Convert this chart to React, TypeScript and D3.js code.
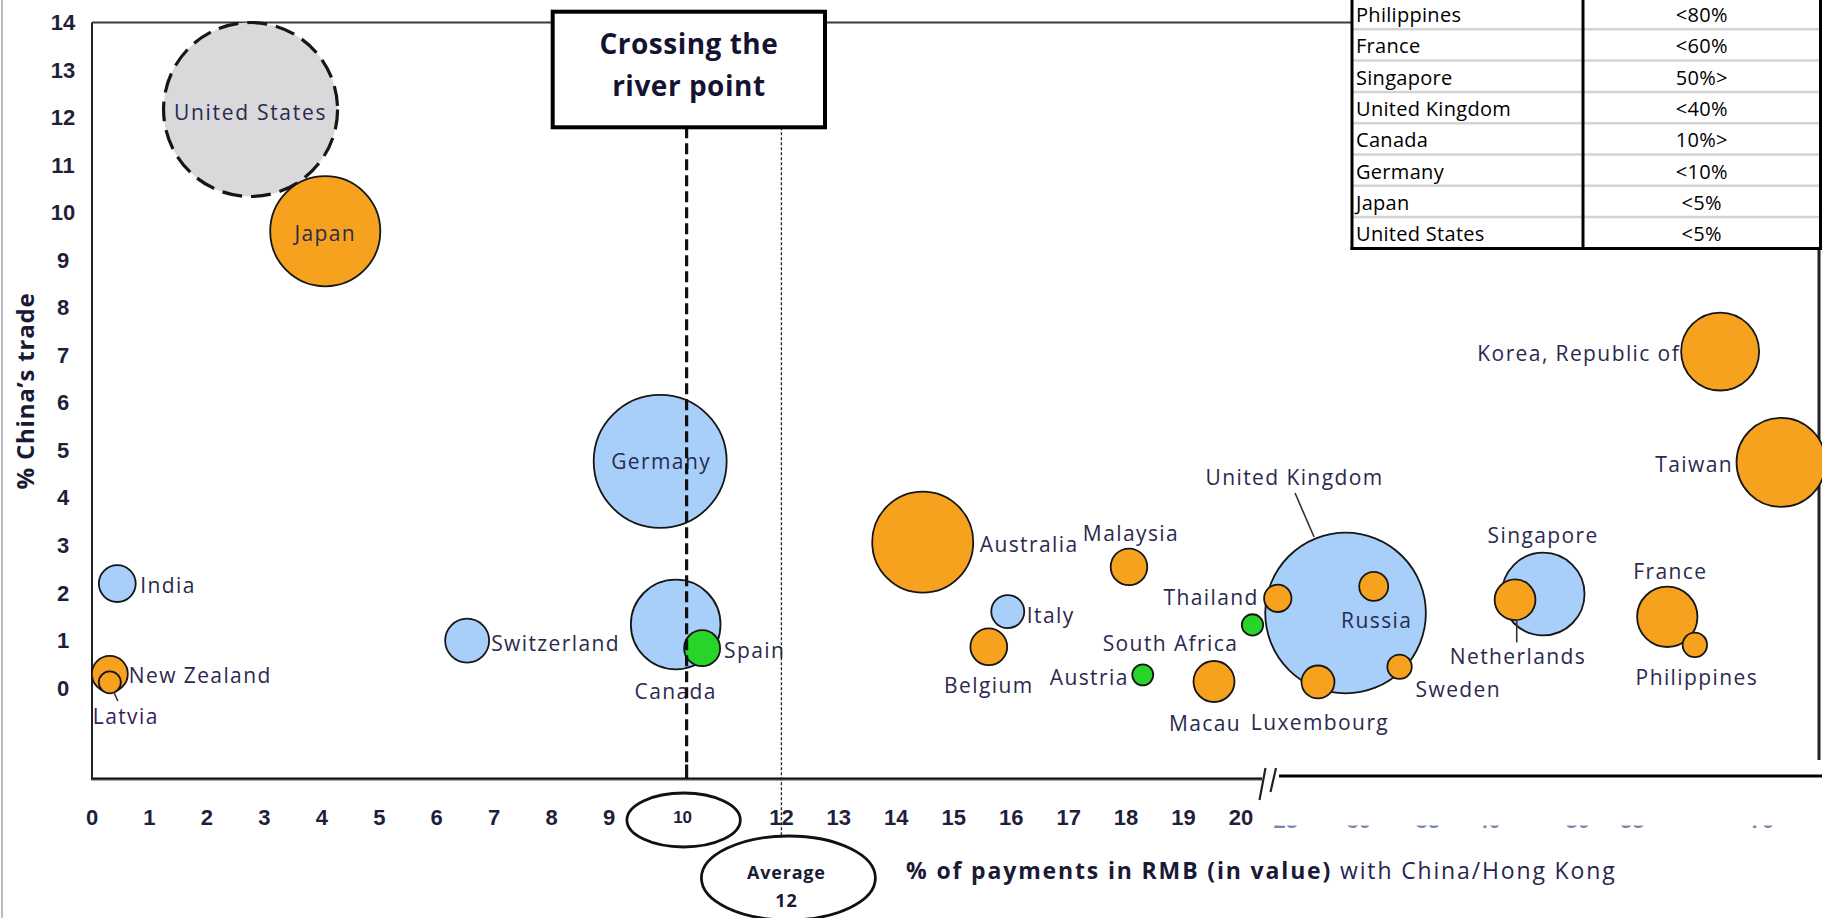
import React from 'react';
import * as d3 from 'd3';

// ---------------- DATA ----------------
const countries = ['United States', 'Japan', 'Germany', 'United Kingdom', 'Australia', 'Canada', 'Taiwan', 'Singapore', 'Korea, Republic of', 'France', 'Switzerland', 'Macau', 'Netherlands', 'India', 'Belgium', 'Malaysia', 'New Zealand', 'Spain', 'Italy', 'Luxembourg', 'Russia', 'Thailand', 'Sweden', 'Philippines', 'Latvia', 'South Africa', 'Austria'];
// % of payments in RMB (x, linear continuation past the axis break)
const rmbShare = [2.76, 4.06, 9.89, 21.82, 14.46, 10.16, 29.4, 25.26, 28.34, 27.42, 6.53, 19.53, 24.77, 0.44, 15.61, 18.05, 0.31, 10.62, 15.94, 21.34, 22.31, 20.64, 22.76, 27.9, 0.31, 20.2, 18.29];
// % of China's trade (y)
const tradeShare = [12.17, 9.61, 4.77, 1.58, 3.07, 1.34, 4.75, 1.98, 7.08, 1.5, 1.0, 0.14, 1.86, 2.2, 0.87, 2.55, 0.3, 0.84, 1.61, 0.13, 2.14, 1.89, 0.45, 0.91, 0.12, 1.33, 0.28];
// bubble size (relative volume)
const bubbleSize = [75.7, 30.3, 44.2, 64.5, 25.5, 20.1, 19.8, 17.1, 15.2, 9.1, 4.84, 4.2, 4.16, 3.4, 3.39, 3.35, 3.24, 3.24, 2.72, 2.72, 2.1, 1.88, 1.49, 1.49, 1.21, 1.14, 1.1];
const group = ['us', 'orange', 'blue', 'blue', 'orange', 'blue', 'orange', 'blue', 'orange', 'orange', 'blue', 'orange', 'orange', 'blue', 'orange', 'orange', 'orange', 'green', 'blue', 'orange', 'orange', 'orange', 'orange', 'orange', 'orange', 'green', 'green'];

const yTicks = [0, 1, 2, 3, 4, 5, 6, 7, 8, 9, 10, 11, 12, 13, 14];
const xTicks = [0, 1, 2, 3, 4, 5, 6, 7, 8, 9, 12, 13, 14, 15, 16, 17, 18, 19, 20];
const hiddenTicks = [20.78, 22.05, 23.25, 24.31, 25.86, 26.81, 29.07];
const hiddenTickLabels = ['25', '30', '35', '40', '50', '55', '70'];
const crossingValue = 10.35;
const crossingLabel = '10';
const averageValue = 12;
const averageLabel = ['Average', '12'];

const tableCountries = ['Philippines', 'France', 'Singapore', 'United Kingdom', 'Canada', 'Germany', 'Japan', 'United States'];
const tableValues = ['<80%', '<60%', '50%>', '<40%', '10%>', '<10%', '<5%', '<5%'];

// ---------------- STYLE ----------------
const W = 1822;
const H = 918;
const FONT = "'Open Sans', 'DejaVu Sans', sans-serif";
const TICKFONT = "'Liberation Sans', Arial, sans-serif";
const fills: Record<string, string> = { us: '#d9d9db', orange: '#f7a21e', blue: '#a7cff9', green: '#27d427' };
const labelColor = '#2a2a4e';
const tickColor = '#1f1f3c';

type LS = { dx: number; dy: number; anchor: string };
const labelPos: Record<string, LS> = {
  'United States': { dx: 0, dy: 2, anchor: 'middle' },
  'Japan': { dx: 0, dy: 2, anchor: 'middle' },
  'Germany': { dx: -49, dy: 0, anchor: 'start' },
  'Canada': { dx: 0, dy: 67, anchor: 'middle' },
  'Spain': { dx: 22, dy: 2, anchor: 'start' },
  'India': { dx: 23, dy: 1, anchor: 'start' },
  'Switzerland': { dx: 24, dy: 2, anchor: 'start' },
  'New Zealand': { dx: 19, dy: 1, anchor: 'start' },
  'Latvia': { dx: -17, dy: 34, anchor: 'start' },
  'Australia': { dx: 57, dy: 2, anchor: 'start' },
  'Malaysia': { dx: 2, dy: -34, anchor: 'middle' },
  'Italy': { dx: 19, dy: 3, anchor: 'start' },
  'Belgium': { dx: 0, dy: 38, anchor: 'middle' },
  'Austria': { dx: -14, dy: 2, anchor: 'end' },
  'Macau': { dx: -9, dy: 41, anchor: 'middle' },
  'South Africa': { dx: -82, dy: 18, anchor: 'middle' },
  'Thailand': { dx: -19, dy: -1, anchor: 'end' },
  'United Kingdom': { dx: -51, dy: -136, anchor: 'middle' },
  'Russia': { dx: 3, dy: 34, anchor: 'middle' },
  'Sweden': { dx: 16, dy: 22, anchor: 'start' },
  'Luxembourg': { dx: 2, dy: 40, anchor: 'middle' },
  'Singapore': { dx: 0, dy: -59, anchor: 'middle' },
  'Netherlands': { dx: 3, dy: 56, anchor: 'middle' },
  'France': { dx: 3, dy: -46, anchor: 'middle' },
  'Philippines': { dx: 2, dy: 32, anchor: 'middle' },
  'Taiwan': { dx: -48, dy: 2, anchor: 'end' },
  'Korea, Republic of': { dx: -40, dy: 1, anchor: 'end' },
};
const leaders: Record<string, number[]> = {
  'United Kingdom': [-50.5, -120, -31.5, -76],
  'Netherlands': [1.7, 20, 1.7, 42.7],
  'Latvia': [4, 9.5, 8, 18.5],
};

export default function App() {
  const x = d3.scaleLinear().domain([0, 20]).range([92, 1241]);
  const y = d3.scaleLinear().domain([-1.9, 14]).range([778.5, 22.5]);
  const r = d3.scaleSqrt().domain([0, 100]).range([0, 100]);

  const plotLeft = x(0);
  const plotTop = y(14);
  const plotBottom = y(-1.9);
  const breakX = 1262;
  const tableX0 = 1352, tableX1 = 1583, tableX2 = 1820.5, rowTop = -2, rowH = 31.3;
  const tableBottom = rowTop + rowH * tableCountries.length;

  const order = d3.range(countries.length).sort((a, b) => bubbleSize[b] - bubbleSize[a]);
  const boxTop = 11.7, boxBottom = 127.3, boxLeft = 552.7, boxRight = 825;

  return (
    <svg width={W} height={H} style={{ position: 'absolute', left: 0, top: 0, background: '#fff' }} fontFamily={FONT}>
      <defs>
        <clipPath id="hiddenClip">
          <rect x={1270} y={825.5} width={540} height={2.5} />
        </clipPath>
      </defs>
      <rect x={0} y={0} width={W} height={H} fill="#fff" />
      {/* outer light border */}
      <line x1={2} x2={2} y1={0} y2={H} stroke="#b8bcc4" strokeWidth={2} />

      {/* plot frame */}
      <line x1={plotLeft} x2={tableX0} y1={plotTop} y2={plotTop} stroke="#3a3a3a" strokeWidth={2} />
      <line x1={plotLeft} x2={plotLeft} y1={plotTop} y2={plotBottom} stroke="#222" strokeWidth={2} />
      <line x1={1819} x2={1819} y1={tableBottom} y2={760} stroke="#222" strokeWidth={3} />
      <line x1={plotLeft - 1} x2={breakX} y1={plotBottom + 0.5} y2={plotBottom + 0.5} stroke="#555" strokeWidth={3} />
      <line x1={plotLeft - 1} x2={breakX} y1={plotBottom} y2={plotBottom} stroke="#111" strokeWidth={1.5} />
      <line x1={1279} x2={W} y1={776} y2={776} stroke="#000" strokeWidth={3} />
      <line x1={1259.5} y1={800} x2={1265.5} y2={768} stroke="#222" strokeWidth={2.2} />
      <line x1={1270.5} y1={792} x2={1276} y2={768} stroke="#222" strokeWidth={2.2} />

      {/* y ticks */}
      {yTicks.map((t) => (
        <text key={'y' + t} x={63} y={y(t)} textAnchor="middle" dominantBaseline="central" fontFamily={TICKFONT} fontWeight="bold" fontSize={22} fill={tickColor}>{t}</text>
      ))}
      {/* x ticks */}
      {xTicks.map((t) => (
        <text key={'x' + t} x={x(t)} y={817} textAnchor="middle" dominantBaseline="central" fontFamily={TICKFONT} fontWeight="bold" fontSize={22} fill={tickColor}>{t}</text>
      ))}
      <g clipPath="url(#hiddenClip)" opacity={0.75}>
        {hiddenTicks.map((t, i) => (
          <text key={'h' + i} x={x(t)} y={820} textAnchor="middle" dominantBaseline="central" fontFamily={TICKFONT} fontWeight="bold" fontSize={22} fill="#4a5c92">{hiddenTickLabels[i]}</text>
        ))}
      </g>

      {/* axis titles */}
      <text transform={`translate(24,391) rotate(-90)`} textAnchor="middle" dominantBaseline="central" fontWeight="bold" fontSize={24} letterSpacing={0.8} fill="#1a1a36">% China’s trade</text>
      <text x={906} y={879} fontSize={23} fill="#1a1a36" letterSpacing={1.85}>
        <tspan fontWeight="bold">% of payments in RMB (in value)</tspan>
        <tspan fill="#2a2450"> with China/Hong Kong</tspan>
      </text>

      {/* bubbles */}
      {order.map((i) => {
        const isUS = group[i] === 'us';
        return (
          <circle key={countries[i]} cx={x(rmbShare[i])} cy={y(tradeShare[i])} r={r(bubbleSize[i])}
            fill={fills[group[i]]} stroke="#161616" strokeWidth={isUS ? 3.2 : 1.8}
            strokeDasharray={isUS ? '20 9' : undefined} />
        );
      })}

      {/* leader lines */}
      {countries.map((c, i) => {
        const l = leaders[c];
        if (!l) return null;
        const cx = x(rmbShare[i]), cy = y(tradeShare[i]);
        return <line key={'l' + c} x1={cx + l[0]} y1={cy + l[1]} x2={cx + l[2]} y2={cy + l[3]} stroke="#333" strokeWidth={1.6} />;
      })}

      {/* labels */}
      {countries.map((c, i) => {
        const p = labelPos[c];
        return (
          <text key={'t' + c} x={x(rmbShare[i]) + p.dx} y={y(tradeShare[i]) + p.dy} textAnchor={p.anchor}
            dominantBaseline="central" fontSize={21} letterSpacing={c === 'United States' ? 1.7 : 1.4}
            fill={c === 'Latvia' ? '#3b1c5c' : labelColor}>{c}</text>
        );
      })}

      {/* crossing the river point */}
      <line x1={x(crossingValue)} x2={x(crossingValue)} y1={boxBottom} y2={plotBottom - 12} stroke="#111" strokeWidth={3.2} strokeDasharray="11 5" />
      <line x1={x(crossingValue)} x2={x(crossingValue)} y1={plotBottom - 14} y2={plotBottom} stroke="#111" strokeWidth={3.2} />
      <line x1={x(averageValue)} x2={x(averageValue)} y1={boxBottom} y2={836} stroke="#222" strokeWidth={1.3} strokeDasharray="3 2" />

      <rect x={boxLeft} y={boxTop} width={boxRight - boxLeft} height={boxBottom - boxTop} fill="#fff" stroke="#000" strokeWidth={4} />
      <text x={(boxLeft + boxRight) / 2} y={54} textAnchor="middle" fontWeight="bold" fontSize={28} letterSpacing={0.5} fill="#141432">Crossing the</text>
      <text x={(boxLeft + boxRight) / 2} y={96} textAnchor="middle" fontWeight="bold" fontSize={28} letterSpacing={0.5} fill="#141432">river point</text>

      {/* ellipses */}
      <ellipse cx={x(crossingValue) - 3} cy={820} rx={56.7} ry={27} fill="none" stroke="#111" strokeWidth={2.8} />
      <text x={x(crossingValue) - 4} y={817} textAnchor="middle" dominantBaseline="central" fontFamily={TICKFONT} fontWeight="bold" fontSize={17} fill={tickColor}>{crossingLabel}</text>
      <ellipse cx={x(averageValue) + 7} cy={878} rx={87} ry={42} fill="#fff" stroke="#111" strokeWidth={2.8} />
      <text x={x(averageValue) + 5} y={879} textAnchor="middle" fontWeight="bold" fontSize={18} letterSpacing={0.8} fill="#1a1a36">{averageLabel[0]}</text>
      <text x={x(averageValue) + 5} y={907} textAnchor="middle" fontWeight="bold" fontSize={18} letterSpacing={0.8} fill="#1a1a36">{averageLabel[1]}</text>

      {/* table */}
      <rect x={tableX0} y={0} width={tableX2 - tableX0} height={tableBottom} fill="#fff" />
      {tableCountries.map((c, i) => (
        <g key={'row' + c}>
          {i < tableCountries.length - 1 && (
            <line x1={tableX0} x2={tableX2} y1={rowTop + rowH * (i + 1)} y2={rowTop + rowH * (i + 1)} stroke="#d3d3d3" strokeWidth={2.5} />
          )}
          <text x={tableX0 + 4} y={rowTop + rowH * i + rowH / 2 + 1} dominantBaseline="central" fontSize={20} letterSpacing={0.3} fill="#000">{c}</text>
          <text x={(tableX1 + tableX2) / 2} y={rowTop + rowH * i + rowH / 2 + 1} textAnchor="middle" dominantBaseline="central" fontSize={20} letterSpacing={0.3} fill="#000">{tableValues[i]}</text>
        </g>
      ))}
      <line x1={tableX0} x2={tableX0} y1={0} y2={tableBottom + 1.5} stroke="#000" strokeWidth={3} />
      <line x1={tableX1} x2={tableX1} y1={0} y2={tableBottom + 1.5} stroke="#000" strokeWidth={3} />
      <line x1={tableX2} x2={tableX2} y1={0} y2={tableBottom + 1.5} stroke="#000" strokeWidth={3} />
      <line x1={tableX0 - 1.5} x2={tableX2 + 1.5} y1={tableBottom} y2={tableBottom} stroke="#000" strokeWidth={3} />
    </svg>
  );
}
